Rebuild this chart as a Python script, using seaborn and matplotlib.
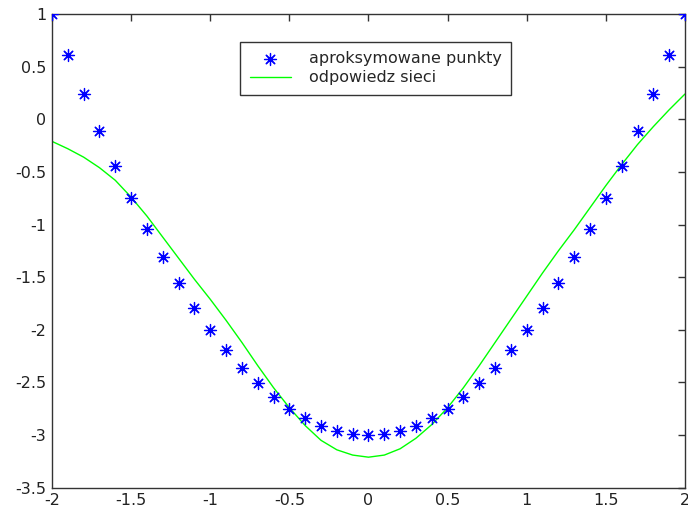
import numpy as np
import pandas as pd
import matplotlib
matplotlib.use("Agg")
import matplotlib.pyplot as plt
import seaborn as sns

# Punkty aproksymowane
x_pts = [-2.0, -1.9, -1.8, -1.7, -1.6, -1.5, -1.4, -1.3, -1.2, -1.1, -1.0,
         -0.9, -0.8, -0.7, -0.6, -0.5, -0.4, -0.3, -0.2, -0.1, 0.0,
         0.1, 0.2, 0.3, 0.4, 0.5, 0.6, 0.7, 0.8, 0.9, 1.0,
         1.1, 1.2, 1.3, 1.4, 1.5, 1.6, 1.7, 1.8, 1.9, 2.0]
y_pts = [1.0, 0.61, 0.24, -0.11, -0.44, -0.75, -1.04, -1.31, -1.56, -1.79, -2.0,
         -2.19, -2.36, -2.51, -2.64, -2.75, -2.84, -2.91, -2.96, -2.99, -3.0,
         -2.99, -2.96, -2.91, -2.84, -2.75, -2.64, -2.51, -2.36, -2.19, -2.0,
         -1.79, -1.56, -1.31, -1.04, -0.75, -0.44, -0.11, 0.24, 0.61, 1.0]

# Odpowiedz sieci
y_net = [-0.21, -0.28, -0.36, -0.46, -0.58, -0.74, -0.92, -1.12, -1.32, -1.52, -1.71,
         -1.91, -2.12, -2.34, -2.55, -2.74, -2.91, -3.05, -3.14, -3.19, -3.21,
         -3.19, -3.13, -3.03, -2.90, -2.74, -2.55, -2.34, -2.12, -1.90, -1.68,
         -1.46, -1.25, -1.05, -0.84, -0.63, -0.43, -0.24, -0.07, 0.09, 0.24]

df = pd.DataFrame({"x": x_pts, "y": y_pts, "net": y_net})

sns.set_style("white")
plt.rcParams["font.family"] = ["DejaVu Sans"]
plt.rcParams["axes.unicode_minus"] = False

fig = plt.figure(figsize=(6.88, 5.13), dpi=100)
ax = fig.add_axes([0.0756, 0.0493, 0.92, 0.9234])

sns.scatterplot(data=df, x="x", y="y", ax=ax, marker=(8, 2, 0), s=75,
                color="#0000ff", edgecolor="#0000ff", linewidth=0.9,
                label="aproksymowane punkty", zorder=3)
sns.lineplot(data=df, x="x", y="net", ax=ax, color="#00ff00", linewidth=1.0,
             label="odpowiedz sieci", zorder=2)

ax.set_xlim(-2, 2)
ax.set_ylim(-3.5, 1)
ax.set_xticks(np.arange(-2, 2.01, 0.5))
ax.set_yticks(np.arange(-3.5, 1.01, 0.5))
ax.xaxis.set_major_formatter(plt.FuncFormatter(lambda v, p: "%g" % v))
ax.yaxis.set_major_formatter(plt.FuncFormatter(lambda v, p: "%g" % v))
ax.set_xlabel("")
ax.set_ylabel("")
ax.tick_params(direction="in", top=True, right=True, length=5, width=1,
               labelsize=11.5, colors="#333333", labelcolor="#222222", pad=4)
for sp in ax.spines.values():
    sp.set_color("#333333")
    sp.set_linewidth(1.0)

leg = ax.legend(loc="upper left", bbox_to_anchor=(0.297, 0.9415), borderaxespad=0,
                fancybox=False, framealpha=1, edgecolor="#333333", fontsize=11.5,
                handlelength=2.6, handletextpad=1.1, borderpad=0.6, labelspacing=0.25)
leg.get_frame().set_linewidth(1.0)

fig.savefig("out.png", dpi=100)
